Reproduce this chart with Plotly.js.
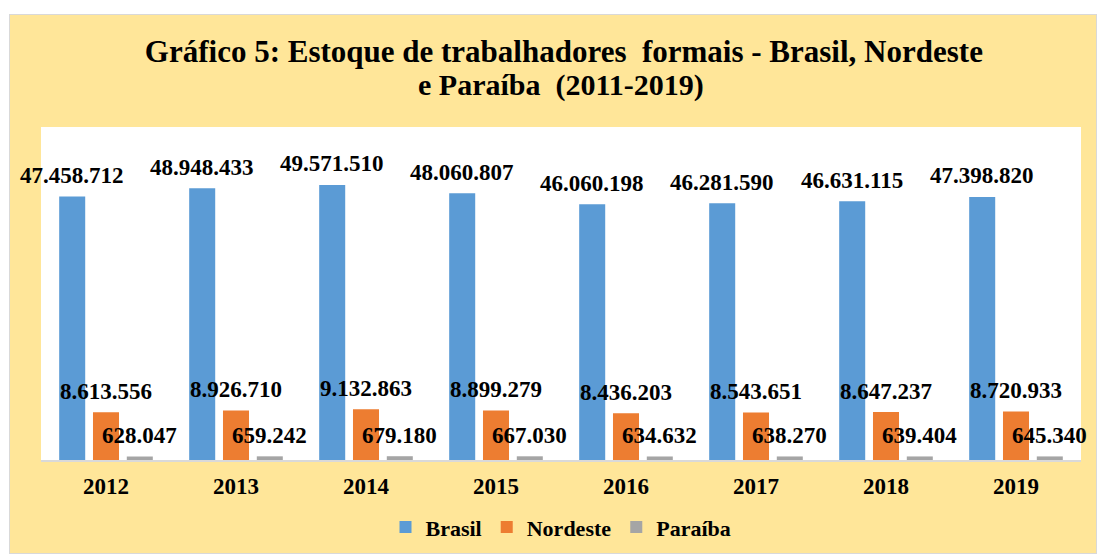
<!DOCTYPE html>
<html><head><meta charset="utf-8">
<script src="https://cdn.plot.ly/plotly-3.0.1.min.js"></script>
<style>
html,body{margin:0;padding:0;background:#fff;}
#chart{position:absolute;left:9px;top:14px;width:1086px;height:538px;border:1px solid #D9D9D9;}
</style></head>
<body><div id="chart"></div>
<script>
const years = ['2012','2013','2014','2015','2016','2017','2018','2019'];
const brasil = [47458712,48948433,49571510,48060807,46060198,46281590,46631115,47398820];
const nordeste = [8613556,8926710,9132863,8899279,8436203,8543651,8647237,8720933];
const paraiba = [628047,659242,679180,667030,634632,638270,639404,645340];
const seriesNames = ['Brasil','Nordeste','Paraíba'];
const colors = ['#5B9BD5','#ED7D31','#A5A5A5'];
const titleLine1 = 'Gráfico 5: Estoque de trabalhadores  formais - Brasil, Nordeste';
const titleLine2 = 'e Paraíba  (2011-2019)';

function fmt(v){ return String(v).replace(/\B(?=(\d{3})+(?!\d))/g,'.'); }

const serif = '"Liberation Serif", "Times New Roman", serif';
const all = [brasil, nordeste, paraiba];
const traces = all.map((vals,k)=>({
  type:'bar', name: seriesNames[k], x: years, y: vals,
  marker:{color: colors[k]}, hoverinfo:'none'
}));

const offs = [-0.26, 0, 0.26];
const annotations = [];
all.forEach((vals,k)=>{
  vals.forEach((v,i)=>{
    annotations.push({x: i+offs[k], y: v, xref:'x', yref:'y', text: '<b>'+fmt(v)+'</b>',
      showarrow:false, yanchor:'middle', yshift:21,
      font:{family: serif, size:23, color:'#000'}});
  });
});
annotations.push({xref:'paper', yref:'paper', x:0.5, y:1.126, xanchor:'center', yanchor:'middle',
  text:'<b>'+titleLine2+'</b>', showarrow:false, font:{family: serif, size:30, color:'#000'}});

const layout = {
  width:1086, height:538,
  paper_bgcolor:'#FFE699', plot_bgcolor:'#FFFFFF',
  margin:{l:31, r:15, t:112, b:93},
  title:{text:'<b>'+titleLine1+'</b>',
    x:0.51, xanchor:'center', y:0.933, yanchor:'middle', xref:'container', yref:'container',
    font:{family: serif, size:31, color:'#000'}},
  barmode:'group', bargap:0.22, bargroupgap:0.23,
  xaxis:{type:'category', range:[-0.5,7.5], autorange:false, showline:true, linecolor:'#D9D9D9', linewidth:1.5, ticks:'',
    tickfont:{family: serif, size:23, color:'#000', weight:'bold'}, ticklabelstandoff:5},
  yaxis:{range:[0,60000000], autorange:false, visible:false, showgrid:false, zeroline:false},
  showlegend:true,
  legend:{orientation:'h', x:0.5, xanchor:'center', yref:'container', y:0.048, yanchor:'middle',
    font:{family: serif, size:22, color:'#000', weight:'bold'}, bgcolor:'rgba(0,0,0,0)', itemwidth:30},
  annotations: annotations
};
Plotly.newPlot('chart', traces, layout, {displayModeBar:false, staticPlot:true});
</script></body></html>
